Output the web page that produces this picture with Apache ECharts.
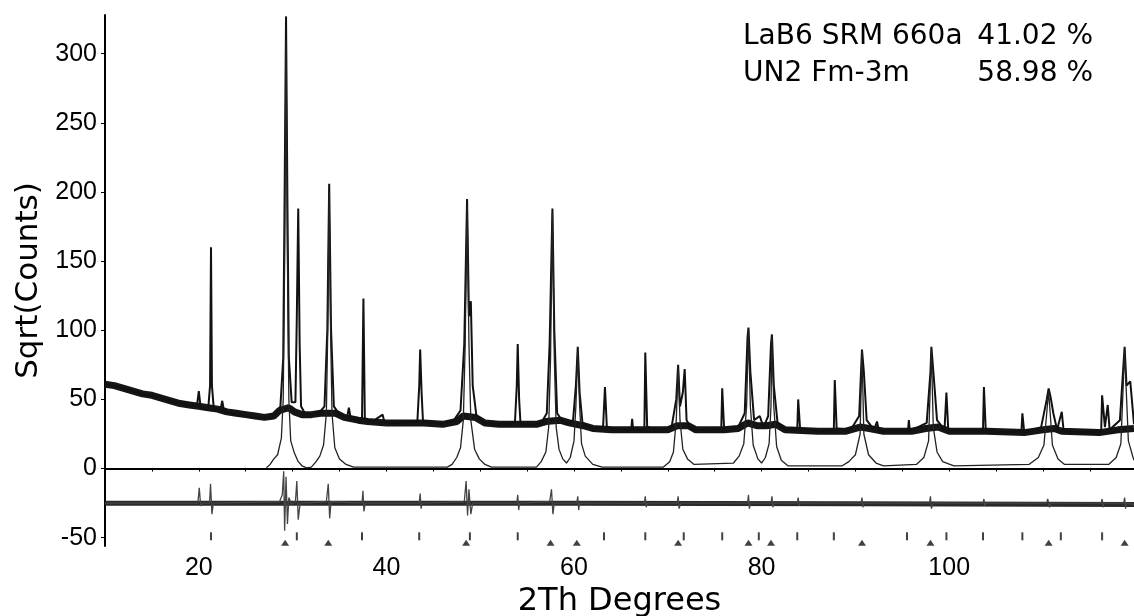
<!DOCTYPE html>
<html>
<head>
<meta charset="utf-8">
<title>LaB6 / UN2 refinement</title>
<script src="https://cdn.jsdelivr.net/npm/echarts@6/dist/echarts.min.js"></script>
<style>
  html, body { margin: 0; padding: 0; background: #fff; }
  #main { width: 1134px; height: 616px; }
</style>
</head>
<body>
<div id="main"></div>
<script>
// observed pattern: background level (drawn as the dense noise band)
var obsBackground = [
  [10, 61], [11, 60], [12, 58], [13, 56], [14, 54], [15, 53], [16, 51], [17, 49], [18, 47], [19, 46],
  [20, 45], [21, 44], [22, 43], [23, 41], [24, 40], [25, 39], [26, 38], [27, 37], [28, 38], [28.6, 42],
  [29.6, 44], [30.2, 41], [31, 39], [32, 39], [33, 40], [34.6, 40], [35.5, 37], [37, 35], [38, 34], [40, 33],
  [42, 33], [44, 33], [46, 32], [47.5, 34], [48.2, 38], [49.5, 37], [50.5, 33], [52, 32], [54, 32], [56, 32],
  [57, 34], [58.5, 35], [59.5, 33], [61, 31], [62, 29], [64, 28], [66, 28], [68, 28], [70, 28], [71, 31],
  [72.2, 31], [73, 28], [76, 28], [77.5, 29], [78.5, 33], [79.5, 31], [80.5, 31], [81.5, 32], [82.5, 28], [86, 27],
  [89, 27], [90.5, 30], [91.5, 29], [93, 27], [96, 27], [97.5, 29], [98.8, 30], [100, 27], [104, 27], [108, 26],
  [110, 28], [111.2, 29], [112, 27], [116, 26], [118, 28], [119.7, 29]
];

// observed pattern with its peaks
var observed = [
  [10, 61], [12, 58], [14, 54], [16, 51], [18, 47], [19.8, 45], [20.0, 56], [20.2, 44], [21.0, 43], [21.2, 60],
  [21.3, 160], [21.4, 60], [21.6, 43], [22.3, 42], [22.5, 49], [22.7, 41], [24, 39], [26, 37], [27.6, 37], [28.2, 40],
  [28.7, 45], [29.0, 80], [29.15, 200], [29.3, 327], [29.45, 190], [29.6, 80], [29.9, 48], [30.3, 48], [30.45, 110], [30.6, 188],
  [30.75, 90], [30.9, 45], [31.3, 40], [32.0, 39], [32.8, 40], [33.4, 45], [33.7, 100], [33.9, 206], [34.1, 100], [34.4, 45],
  [35.0, 39], [35.8, 37], [36.0, 44], [36.2, 36], [37.0, 35], [37.4, 36], [37.55, 123], [37.7, 36], [38.5, 34], [39.6, 39],
  [39.8, 33], [41, 33], [43.3, 34], [43.5, 60], [43.6, 86], [43.75, 55], [43.9, 34], [45, 33], [46, 32], [47.2, 35],
  [47.9, 42], [48.3, 90], [48.6, 195], [48.8, 110], [49.0, 121], [49.2, 60], [49.6, 38], [50.5, 33], [52, 32], [53.7, 33],
  [53.9, 60], [54.0, 90], [54.15, 50], [54.3, 32], [55.5, 31], [56.5, 33], [57.1, 40], [57.4, 90], [57.7, 188], [57.9, 100],
  [58.2, 40], [59, 32], [59.9, 35], [60.2, 60], [60.4, 88], [60.6, 55], [60.9, 33], [62, 29], [63.1, 30], [63.3, 59],
  [63.5, 30], [65, 28], [66.1, 28], [66.2, 36], [66.3, 28], [67.5, 28], [67.6, 84], [67.8, 30], [69, 28], [70.4, 30],
  [70.9, 50], [71.1, 75], [71.3, 45], [71.6, 55], [71.8, 72], [72.0, 35], [72.6, 28], [74, 28], [75.7, 29], [75.8, 58],
  [76.0, 29], [77.5, 30], [78.2, 40], [78.5, 95], [78.6, 102], [78.8, 70], [79.2, 35], [79.8, 38], [80.2, 30], [80.7, 38],
  [81.0, 90], [81.1, 97], [81.3, 60], [81.7, 33], [82.5, 28], [83.8, 28], [83.9, 50], [84.1, 29], [86, 27], [87.7, 28],
  [87.8, 64], [88.0, 29], [89.5, 28], [90.4, 38], [90.7, 86], [90.9, 70], [91.2, 35], [92.0, 28], [92.3, 34], [92.5, 27],
  [94, 27], [95.6, 27], [95.7, 35], [95.8, 27], [97.6, 33], [98.0, 70], [98.1, 88], [98.4, 62], [98.7, 35], [99.5, 28],
  [99.7, 55], [99.9, 28], [101.5, 27], [103.6, 27], [103.7, 59], [103.9, 27], [106, 26], [107.7, 27], [107.8, 40], [108, 26],
  [109.8, 30], [110.4, 50], [110.6, 58], [110.8, 52], [111.1, 40], [111.5, 28], [112, 41], [112.2, 27], [114, 26], [116.2, 27],
  [116.3, 53], [116.6, 30], [116.9, 46], [117.1, 28], [118.2, 35], [118.7, 88], [118.9, 60], [119.3, 63], [119.6, 40], [119.7, 32]
];

// calculated UN2 phase profile
var calcUN2 = [
  [27.2, 0.5], [27.6, 3], [28.0, 7], [28.4, 10], [28.8, 22], [29.0, 50], [29.15, 150], [29.3, 310], [29.45, 150], [29.6, 50],
  [29.8, 20], [30.2, 11], [30.6, 5], [31.0, 2], [31.5, 0.5], [32.0, 1], [32.5, 5], [32.9, 9], [33.3, 17], [33.6, 40],
  [33.75, 100], [33.9, 200], [34.05, 100], [34.2, 40], [34.5, 15], [35.0, 7], [35.7, 3], [36.5, 1], [46.5, 1], [47.0, 3],
  [47.5, 8], [47.9, 15], [48.2, 35], [48.4, 90], [48.6, 190], [48.8, 90], [49.0, 35], [49.4, 14], [49.9, 7], [50.5, 3],
  [51.2, 1], [56.0, 1], [56.5, 5], [57.0, 12], [57.3, 30], [57.5, 80], [57.7, 185], [57.9, 80], [58.1, 30], [58.4, 14],
  [58.8, 7], [59.2, 4], [59.6, 8], [60.0, 20], [60.2, 45], [60.4, 85], [60.6, 45], [60.8, 18], [61.2, 9], [62.0, 3],
  [63.0, 1], [69.5, 1], [70.2, 5], [70.6, 12], [70.9, 35], [71.1, 74], [71.3, 35], [71.6, 14], [72.1, 7], [72.8, 3],
  [77.0, 4], [77.6, 9], [78.1, 18], [78.4, 45], [78.6, 100], [78.8, 45], [79.1, 17], [79.6, 7], [80.0, 4], [80.4, 8],
  [80.8, 18], [81.0, 45], [81.1, 95], [81.3, 45], [81.6, 16], [82.1, 6], [82.8, 2], [88.6, 2], [89.3, 5], [90.0, 10],
  [90.5, 25], [90.7, 85], [90.9, 25], [91.4, 10], [92.2, 4], [93.0, 2], [96.5, 3], [97.3, 8], [97.8, 20], [98.1, 86],
  [98.3, 30], [98.7, 12], [99.3, 5], [100.5, 2], [108.5, 3], [109.5, 8], [110.1, 17], [110.6, 56], [111.0, 17], [111.6, 7],
  [112.3, 3], [117.0, 3], [117.8, 8], [118.3, 18], [118.7, 85], [119.1, 20], [119.6, 8], [119.7, 6]
];

// difference curve (obs - calc, offset)
var diffBackground = [[10, -25], [30, -25], [60, -25], [90, -25.5], [119.7, -26]];
var difference = [
  [10, -25], [19.9, -25], [20.05, -14], [20.2, -27], [20.4, -25], [21.15, -25], [21.25, -11], [21.4, -33], [21.55, -25],
  [28.6, -24], [28.9, -19], [29.05, -2], [29.15, -45], [29.3, -6], [29.45, -40], [29.6, -21], [29.9, -26], [30.3, -24], [30.45, -9],
  [30.6, -37], [30.8, -25], [33.6, -24], [33.8, -11], [33.95, -36], [34.1, -24], [37.4, -25], [37.5, -16], [37.6, -31], [37.75, -25],
  [43.5, -25], [43.6, -18], [43.7, -29], [43.8, -25], [48.3, -24], [48.5, -9], [48.65, -34], [48.8, -15], [49.0, -33], [49.2, -25],
  [53.9, -25], [54.0, -19], [54.1, -30], [54.2, -25], [57.4, -24], [57.6, -15], [57.75, -33], [57.9, -25], [60.3, -25], [60.4, -20],
  [60.5, -30], [60.6, -25], [67.5, -25], [67.6, -20], [67.7, -28], [67.8, -25], [71.0, -25], [71.1, -20], [71.2, -29], [71.4, -25],
  [78.5, -25], [78.6, -19], [78.7, -29], [78.8, -25], [81.0, -25], [81.1, -20], [81.2, -28], [81.3, -25], [83.8, -25], [83.9, -21],
  [84.0, -27], [84.1, -25], [90.6, -25], [90.7, -21], [90.8, -28], [90.9, -25], [97.9, -25], [98.0, -20], [98.1, -29], [98.3, -25],
  [103.6, -25], [103.7, -22], [103.8, -27], [103.9, -25], [110.4, -25], [110.5, -22], [110.7, -28], [110.8, -25], [116.2, -25], [116.3, -22],
  [116.4, -28], [116.5, -25], [118.6, -25], [118.7, -21], [118.8, -29], [118.9, -25], [119.7, -26]
];

// reflection positions
var lab6Ticks = [21.3, 30.45, 37.4, 43.5, 48.9, 54.0, 63.2, 67.6, 71.7, 75.8, 79.7, 83.8, 87.7, 95.5, 99.7, 103.6, 107.8, 111.9, 116.3];
var un2Ticks = [29.2, 33.8, 48.5, 57.5, 60.3, 71.1, 78.6, 81.0, 90.7, 98.0, 110.6, 118.7];

// axis ticks / labels
var xLabelValues = [20, 40, 60, 80, 100];
var xTickValues = [15, 20, 25, 30, 35, 40, 45, 50, 55, 60, 65, 70, 75, 80, 85, 90, 95, 100, 105, 110, 115];
var yLabelValues = [-50, 0, 50, 100, 150, 200, 250, 300];

var phaseNames = ['LaB6 SRM 660a', 'UN2 Fm-3m'];
var phasePercents = ['41.02 %', '58.98 %'];

var LAB6_ROW = -49;
var UN2_ROW = -53.6;
var FONT = '"Liberation Sans", Arial, sans-serif';
var WIDE_FONT = '"DejaVu Sans", "Liberation Sans", sans-serif';

var chart = echarts.init(document.getElementById('main'));

var graphics = [];
phaseNames.forEach(function (name, i) {
  graphics.push({
    type: 'text', x: 743, y: 37 + i * 37,
    style: { text: name, font: '28px ' + WIDE_FONT, fill: '#000', verticalAlign: 'middle' }
  });
  graphics.push({
    type: 'text', x: 1093, y: 37 + i * 37,
    style: { text: phasePercents[i], font: '28px ' + WIDE_FONT, fill: '#000', align: 'right', verticalAlign: 'middle' }
  });
});

var option = {
  animation: false,
  backgroundColor: '#fff',
  grid: { left: 105, right: 0, top: 15, bottom: 70, outerBoundsMode: 'none' },
  xAxis: {
    type: 'value',
    min: 10,
    max: 119.7,
    name: '2Th Degrees',
    nameLocation: 'middle',
    nameGap: 35,
    nameTextStyle: { fontFamily: WIDE_FONT, fontSize: 32, color: '#000' },
    axisLine: { show: true, lineStyle: { color: '#000', width: 2 } },
    axisTick: { show: true, length: 3, customValues: xTickValues, lineStyle: { color: '#000', width: 1 } },
    axisLabel: { customValues: xLabelValues, fontFamily: FONT, fontSize: 25, color: '#000', margin: 10 },
    splitLine: { show: false }
  },
  yAxis: {
    type: 'value',
    min: -56,
    max: 328,
    name: 'Sqrt(Counts)',
    nameLocation: 'middle',
    nameGap: 58,
    nameRotate: 90,
    nameTextStyle: { fontFamily: WIDE_FONT, fontSize: 31, color: '#000' },
    axisLine: { show: true, lineStyle: { color: '#000', width: 2 } },
    axisTick: { show: true, length: 4, customValues: yLabelValues, lineStyle: { color: '#000', width: 1 } },
    axisLabel: { customValues: yLabelValues, fontFamily: FONT, fontSize: 25, color: '#000', margin: 8 },
    splitLine: { show: false }
  },
  graphic: graphics,
  series: [
    {
      name: 'obs band', type: 'line', data: obsBackground, showSymbol: false,
      lineStyle: { color: '#151515', width: 7 }, z: 2
    },
    {
      name: 'observed', type: 'line', data: observed, showSymbol: false,
      lineStyle: { color: '#111', width: 2 }, z: 3
    },
    {
      name: 'UN2 calc', type: 'line', data: calcUN2, showSymbol: false,
      lineStyle: { color: '#222', width: 1.3 }, z: 4
    },
    {
      name: 'diff band', type: 'line', data: diffBackground, showSymbol: false,
      lineStyle: { color: '#2a2a2a', width: 5 }, z: 2
    },
    {
      name: 'difference', type: 'line', data: difference, showSymbol: false,
      lineStyle: { color: '#444', width: 1.3 }, z: 3
    },
    {
      name: 'LaB6 reflections', type: 'scatter',
      data: lab6Ticks.map(function (x) { return [x, LAB6_ROW]; }),
      symbol: 'rect', symbolSize: [2, 8], itemStyle: { color: '#111' }, z: 5
    },
    {
      name: 'UN2 reflections', type: 'scatter',
      data: un2Ticks.map(function (x) { return [x, UN2_ROW]; }),
      symbol: 'triangle', symbolSize: [8, 6], itemStyle: { color: '#111' }, z: 5
    }
  ]
};

chart.setOption(option);
</script>
</body>
</html>
